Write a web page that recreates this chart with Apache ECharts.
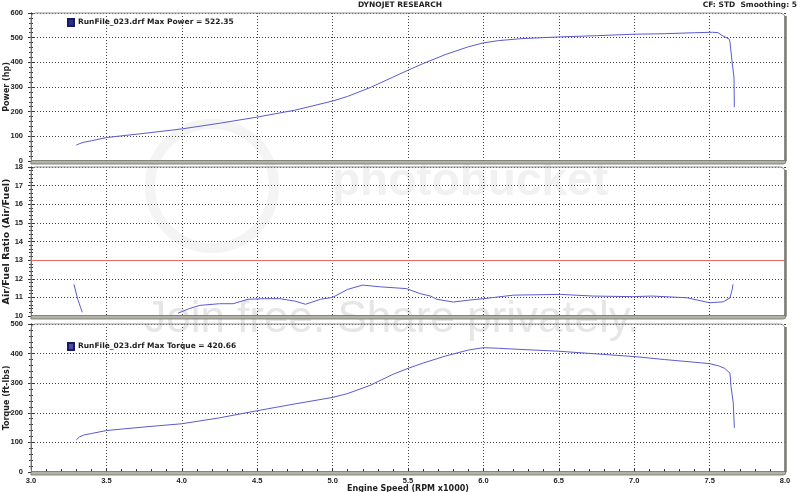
<!DOCTYPE html>
<html><head><meta charset="utf-8">
<script src="https://cdn.jsdelivr.net/npm/echarts@6/dist/echarts.min.js"></script>
<style>html,body{margin:0;padding:0;background:#fff}#c{width:800px;height:492px}</style>
</head><body><div id="c"></div>
<script>
// ---- data ----
const powerName = 'RunFile_023.drf Max Power = 522.35';
const torqueName = 'RunFile_023.drf Max Torque = 420.66';
const xTicks = [3.0, 3.5, 4.0, 4.5, 5.0, 5.5, 6.0, 6.5, 7.0, 7.5, 8.0];

const rpmPower = [3.30,3.32,3.35,3.40,3.50,3.60,3.75,4.00,4.25,4.50,4.75,5.00,5.10,5.25,5.40,5.50,5.60,5.75,5.90,6.00,6.10,6.25,6.50,6.75,7.00,7.20,7.40,7.52,7.556,7.58,7.63,7.635,7.648,7.662,7.664];
const powerHp  = [64,70,76,82,95,102,112,130,153,178,206,243,262,298,340,368,395,432,463,479,488,496,503,508,514,516,520,522,520,510,494,483,409,336,218];

const rpmAfrA = [3.285,3.31,3.34];
const afrA    = [11.7,10.9,10.2];
const rpmAfrB = [3.975,4.05,4.12,4.25,4.34,4.44,4.55,4.65,4.75,4.82,4.92,5.00,5.10,5.20,5.31,5.49,5.58,5.65,5.69,5.80,5.90,6.00,6.20,6.51,6.73,6.99,7.12,7.35,7.50,7.59,7.635,7.65,7.655];
const afrB    = [10.15,10.4,10.57,10.66,10.66,10.9,10.93,10.93,10.8,10.63,10.9,11.0,11.43,11.66,11.57,11.47,11.2,11.07,10.9,10.75,10.85,10.93,11.12,11.16,11.07,11.04,11.07,10.98,10.71,10.76,10.97,11.43,11.7];
const afrTarget = 13;

const rpmTorque = [3.30,3.32,3.35,3.40,3.50,3.60,3.75,4.00,4.25,4.50,4.75,5.00,5.10,5.25,5.40,5.50,5.60,5.75,5.90,6.00,6.10,6.25,6.50,6.75,7.00,7.20,7.44,7.50,7.558,7.60,7.635,7.642,7.657,7.664];
const torqueFt  = [108,118,125,130,140,145,152,163,183,207,230,252,265,293,330,350,368,392,412,420,418,414,408,399,390,380,369,366,359,350,334,289,233,149];

// ---- build ----
const pairs = (xs, ys) => xs.map((x, i) => [x, ys[i]]);
const FONT = 'DejaVu Sans';
const TICKFONT = 'Liberation Sans';
const LINE = '#5b5bd0';
const panels = [
  {top: 13, h: 148},
  {top: 167, h: 149},
  {top: 324, h: 148}
];
const L = 31, R = 785;

function xAxis(i, last) {
  return {
    type: 'value', gridIndex: i, min: 3, max: 8, interval: 0.5,
    axisLine: {show: false},
    axisTick: {show: last, inside: true, length: 4, lineStyle: {color: '#333'}},
    minorTick: {show: last, splitNumber: 5, length: 3, lineStyle: {color: '#333'}},
    axisLabel: {show: last, fontFamily: TICKFONT, fontWeight: 'bold', fontSize: 7.5, color: '#222', margin: 5,
      formatter: v => v.toFixed(1)},
    splitLine: {show: true, lineStyle: {color: '#444', type: [1, 2], width: 1}},
    name: last ? 'Engine Speed (RPM x1000)' : '', nameLocation: 'middle', nameGap: 13, nameMoveOverlap: false,
    nameTextStyle: {fontFamily: FONT, fontWeight: 'bold', fontSize: 8, color: '#222'}
  };
}
function yAxis(i, min, max, interval, name, outer, nameSize, nameGap) {
  return {
    type: 'value', gridIndex: i, min, max, interval, position: 'left',
    axisLine: {show: true, lineStyle: {color: '#555', width: 1}},
    axisTick: {show: true, inside: !outer, length: 3, lineStyle: {color: '#333'}},
    minorTick: {show: true, splitNumber: 5, length: 2, lineStyle: {color: '#333'}},
    axisLabel: {show: outer, fontFamily: TICKFONT, fontWeight: 'bold', fontSize: 7.5, color: '#222', margin: 8},
    splitLine: {show: outer, lineStyle: {color: '#444', type: [1, 2], width: 1}},
    name: outer ? name : '', nameLocation: 'middle', nameGap: nameGap || 20, nameMoveOverlap: false,
    nameTextStyle: {fontFamily: FONT, fontWeight: 'bold', fontSize: nameSize || 8, color: '#222'}
  };
}

const graphics = [];
// watermark
graphics.push({type: 'circle', z: -10, shape: {cx: 212, cy: 186, r: 62}, style: {fill: 'none', stroke: '#f4f4f4', lineWidth: 10}});
graphics.push({type: 'text', z: -10, style: {text: 'photobucket', x: 470, y: 182, fill: '#f1f1f1', font: 'bold 46px "Liberation Sans"', textAlign: 'center', textVerticalAlign: 'middle'}});
graphics.push({type: 'text', z: -10, style: {text: 'Join free. Share privately.', x: 392, y: 320, fill: '#e6e6e6', font: '44px "Liberation Sans"', textAlign: 'center', textVerticalAlign: 'middle'}});
panels.forEach(p => {
  graphics.push({type: 'rect', z: 50, silent: true, shape: {x: L, y: p.top, width: R - L, height: p.h + 2, r: [5, 5, 5, 5]},
    style: {fill: 'none', stroke: '#8f8f8f', lineWidth: 1}});
  graphics.push({type: 'line', z: 51, silent: true, shape: {x1: R + 0.5, y1: p.top + 3, x2: R + 0.5, y2: p.top + p.h},
    style: {stroke: '#7d7d76', lineWidth: 2.5}});
  graphics.push({type: 'rect', z: 51, silent: true, shape: {x: L, y: p.top + p.h - 0.5, width: R - L + 1, height: 3.5, r: [0, 0, 3, 0]},
    style: {fill: '#b3b3aa', stroke: '#6f6f68', lineWidth: 0.8}});
});

const legendCommon = {
  icon: 'rect', itemWidth: 6, itemHeight: 7, itemGap: 4, padding: 0,
  textStyle: {fontFamily: FONT, fontWeight: 'bold', fontSize: 7.5, color: '#222', padding: [0, 0, 0, -1]}
};

const option = {
  backgroundColor: '#fff',
  animation: false,
  title: [
    {text: 'DYNOJET RESEARCH', left: 'center', top: 1, padding: 0,
      textStyle: {fontFamily: FONT, fontWeight: 'bold', fontSize: 7.5, color: '#222'}},
    {text: 'CF: STD  Smoothing: 5', right: 3, top: 1, padding: 0,
      textStyle: {fontFamily: FONT, fontWeight: 'bold', fontSize: 7.5, color: '#222'}}
  ],
  legend: [
    Object.assign({data: [powerName], left: 67, top: 18}, legendCommon),
    Object.assign({data: [torqueName], left: 67, top: 342}, legendCommon)
  ],
  grid: panels.map(p => ({left: L, width: R - L, top: p.top, height: p.h, containLabel: false, outerBoundsMode: 'none'})),
  xAxis: [xAxis(0, false), xAxis(1, false), xAxis(2, true)],
  yAxis: [
    yAxis(0, 0, 600, 100, 'Power (hp)', true, 8, 20),
    yAxis(1, 10, 18, 1, 'Air/Fuel Ratio (Air/Fuel)', true, 9.5, 19),
    yAxis(2, 0, 500, 100, 'Torque (ft-lbs)', true, 8, 20),
    yAxis(0, 0, 600, 100, '', false),
    yAxis(1, 10, 18, 1, '', false),
    yAxis(2, 0, 500, 100, '', false)
  ],
  graphic: graphics,
  series: [
    {name: powerName, type: 'line', xAxisIndex: 0, yAxisIndex: 0, data: pairs(rpmPower, powerHp),
      showSymbol: false, symbol: 'none', lineStyle: {color: LINE, width: 1},
      itemStyle: {color: '#2e2e90', borderColor: '#1a1a60', borderWidth: 1}},
    {name: 'afrA', type: 'line', xAxisIndex: 1, yAxisIndex: 1, data: pairs(rpmAfrA, afrA),
      showSymbol: false, symbol: 'none', lineStyle: {color: LINE, width: 1}, itemStyle: {color: LINE}},
    {name: 'afrB', type: 'line', xAxisIndex: 1, yAxisIndex: 1, data: pairs(rpmAfrB, afrB),
      showSymbol: false, symbol: 'none', lineStyle: {color: LINE, width: 1}, itemStyle: {color: LINE},
      markLine: {silent: true, symbol: 'none', label: {show: false},
        lineStyle: {color: '#e06a6a', type: 'solid', width: 1.2}, data: [{yAxis: afrTarget}]}},
    {name: torqueName, type: 'line', xAxisIndex: 2, yAxisIndex: 2, data: pairs(rpmTorque, torqueFt),
      showSymbol: false, symbol: 'none', lineStyle: {color: LINE, width: 1},
      itemStyle: {color: '#4a4aa8', borderColor: '#1a1a60', borderWidth: 1}}
  ]
};
const chart = echarts.init(document.getElementById('c'), null, {renderer: 'canvas'});
chart.setOption(option);
</script>
</body></html>
